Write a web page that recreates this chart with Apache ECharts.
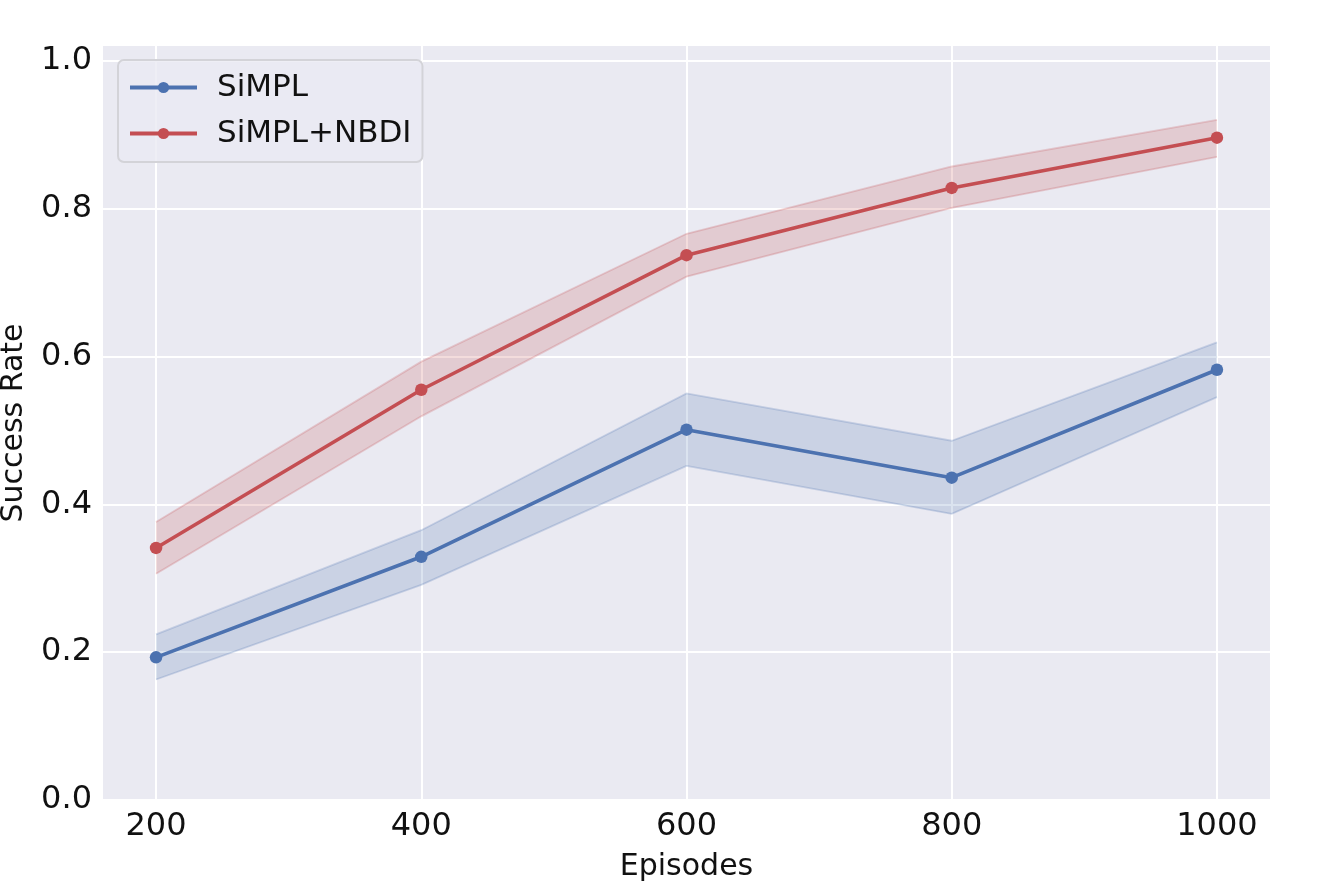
<!DOCTYPE html>
<html>
<head>
<meta charset="utf-8">
<script src="https://cdn.jsdelivr.net/npm/echarts@6/dist/echarts.min.js"></script>
<style>html,body{margin:0;padding:0;background:#fff}#c{width:1329px;height:886px}</style>
</head>
<body>
<div id="c"></div>
<script>
const episodes = [200, 400, 600, 800, 1000];
const xTicks = [200, 400, 600, 800, 1000];
const yTicks = [0, 0.2, 0.4, 0.6, 0.8, 1.0];

const simplMean  = [0.193, 0.329, 0.501, 0.436, 0.582];
const simplLower = [0.163, 0.291, 0.452, 0.387, 0.545];
const simplUpper = [0.224, 0.365, 0.550, 0.486, 0.619];

const nbdiMean  = [0.341, 0.555, 0.737, 0.828, 0.896];
const nbdiLower = [0.306, 0.519, 0.708, 0.801, 0.870];
const nbdiUpper = [0.376, 0.593, 0.766, 0.857, 0.920];

const BLUE = '#4C72B0', RED = '#C44E52';
const FONT = 'DejaVu Sans';
const TEXT = '#111111';

function pairs(ys) { return episodes.map((x, i) => [x, ys[i]]); }

function band(name, lo, up, color) {
  return {
    type: 'custom', name: name, silent: true, z: 1,
    data: episodes.map((x, i) => [x, lo[i], up[i]]),
    encode: { x: 0, y: [1, 2] },
    renderItem: function (params, api) {
      if (params.dataIndex !== 0) return null;
      const upPts = episodes.map((x, i) => api.coord([x, up[i]]));
      const loPts = episodes.map((x, i) => api.coord([x, lo[i]]));
      const poly = upPts.concat(loPts.slice().reverse());
      const edge = { fill: null, stroke: color, opacity: 0.24, lineWidth: 1.8 };
      return {
        type: 'group',
        children: [
          { type: 'polygon', shape: { points: poly }, style: { fill: color, opacity: 0.2 } },
          { type: 'polyline', shape: { points: upPts }, style: edge },
          { type: 'polyline', shape: { points: loPts }, style: edge }
        ]
      };
    }
  };
}

const chart = echarts.init(document.getElementById('c'), null, { renderer: 'canvas' });
chart.setOption({
  animation: false,
  backgroundColor: '#ffffff',
  textStyle: { fontFamily: FONT },
  grid: { left: 103, right: 59, top: 46, bottom: 86, show: true, backgroundColor: '#EAEAF2', borderWidth: 0,
    outerBoundsMode: 'none', containLabel: false },
  legend: {
    data: ['SiMPL', 'SiMPL+NBDI'],
    orient: 'vertical', left: 118, top: 60,
    itemWidth: 67, itemHeight: 14, itemGap: 15,
    padding: [12, 11, 13, 10],
    backgroundColor: 'rgba(234,234,242,0.8)',
    borderColor: '#d3d3d8', borderWidth: 2, borderRadius: 6,
    lineStyle: { width: 4 },
    textStyle: { fontFamily: FONT, fontSize: 31, color: TEXT, padding: [0, 0, 0, 15] }
  },
  xAxis: {
    type: 'value', min: 160, max: 1040,
    name: 'Episodes', nameLocation: 'middle', nameGap: 52,
    nameTextStyle: { fontFamily: FONT, fontSize: 30, color: TEXT },
    axisLine: { show: false },
    axisTick: { show: false, customValues: xTicks },
    axisLabel: { customValues: xTicks, fontFamily: FONT, fontSize: 32, color: TEXT, margin: 11,
      formatter: v => String(v) },
    splitLine: { show: true, lineStyle: { color: '#ffffff', width: 2 } }
  },
  yAxis: {
    type: 'value', min: 0, max: 1.02,
    name: 'Success Rate', nameLocation: 'middle', nameGap: 74,
    nameTextStyle: { fontFamily: FONT, fontSize: 30, color: TEXT },
    axisLine: { show: false },
    axisTick: { show: false, customValues: yTicks },
    axisLabel: { customValues: yTicks, fontFamily: FONT, fontSize: 32, color: TEXT, margin: 11,
      formatter: v => v.toFixed(1) },
    splitLine: { show: true, lineStyle: { color: '#ffffff', width: 2 } }
  },
  series: [
    band('simpl_band', simplLower, simplUpper, BLUE),
    band('nbdi_band', nbdiLower, nbdiUpper, RED),
    { type: 'line', name: 'SiMPL', data: pairs(simplMean), color: BLUE,
      lineStyle: { width: 3.6, color: BLUE }, itemStyle: { color: BLUE },
      symbol: 'circle', symbolSize: 12.5, z: 3 },
    { type: 'line', name: 'SiMPL+NBDI', data: pairs(nbdiMean), color: RED,
      lineStyle: { width: 3.6, color: RED }, itemStyle: { color: RED },
      symbol: 'circle', symbolSize: 12.5, z: 3 }
  ]
});
</script>
</body>
</html>
